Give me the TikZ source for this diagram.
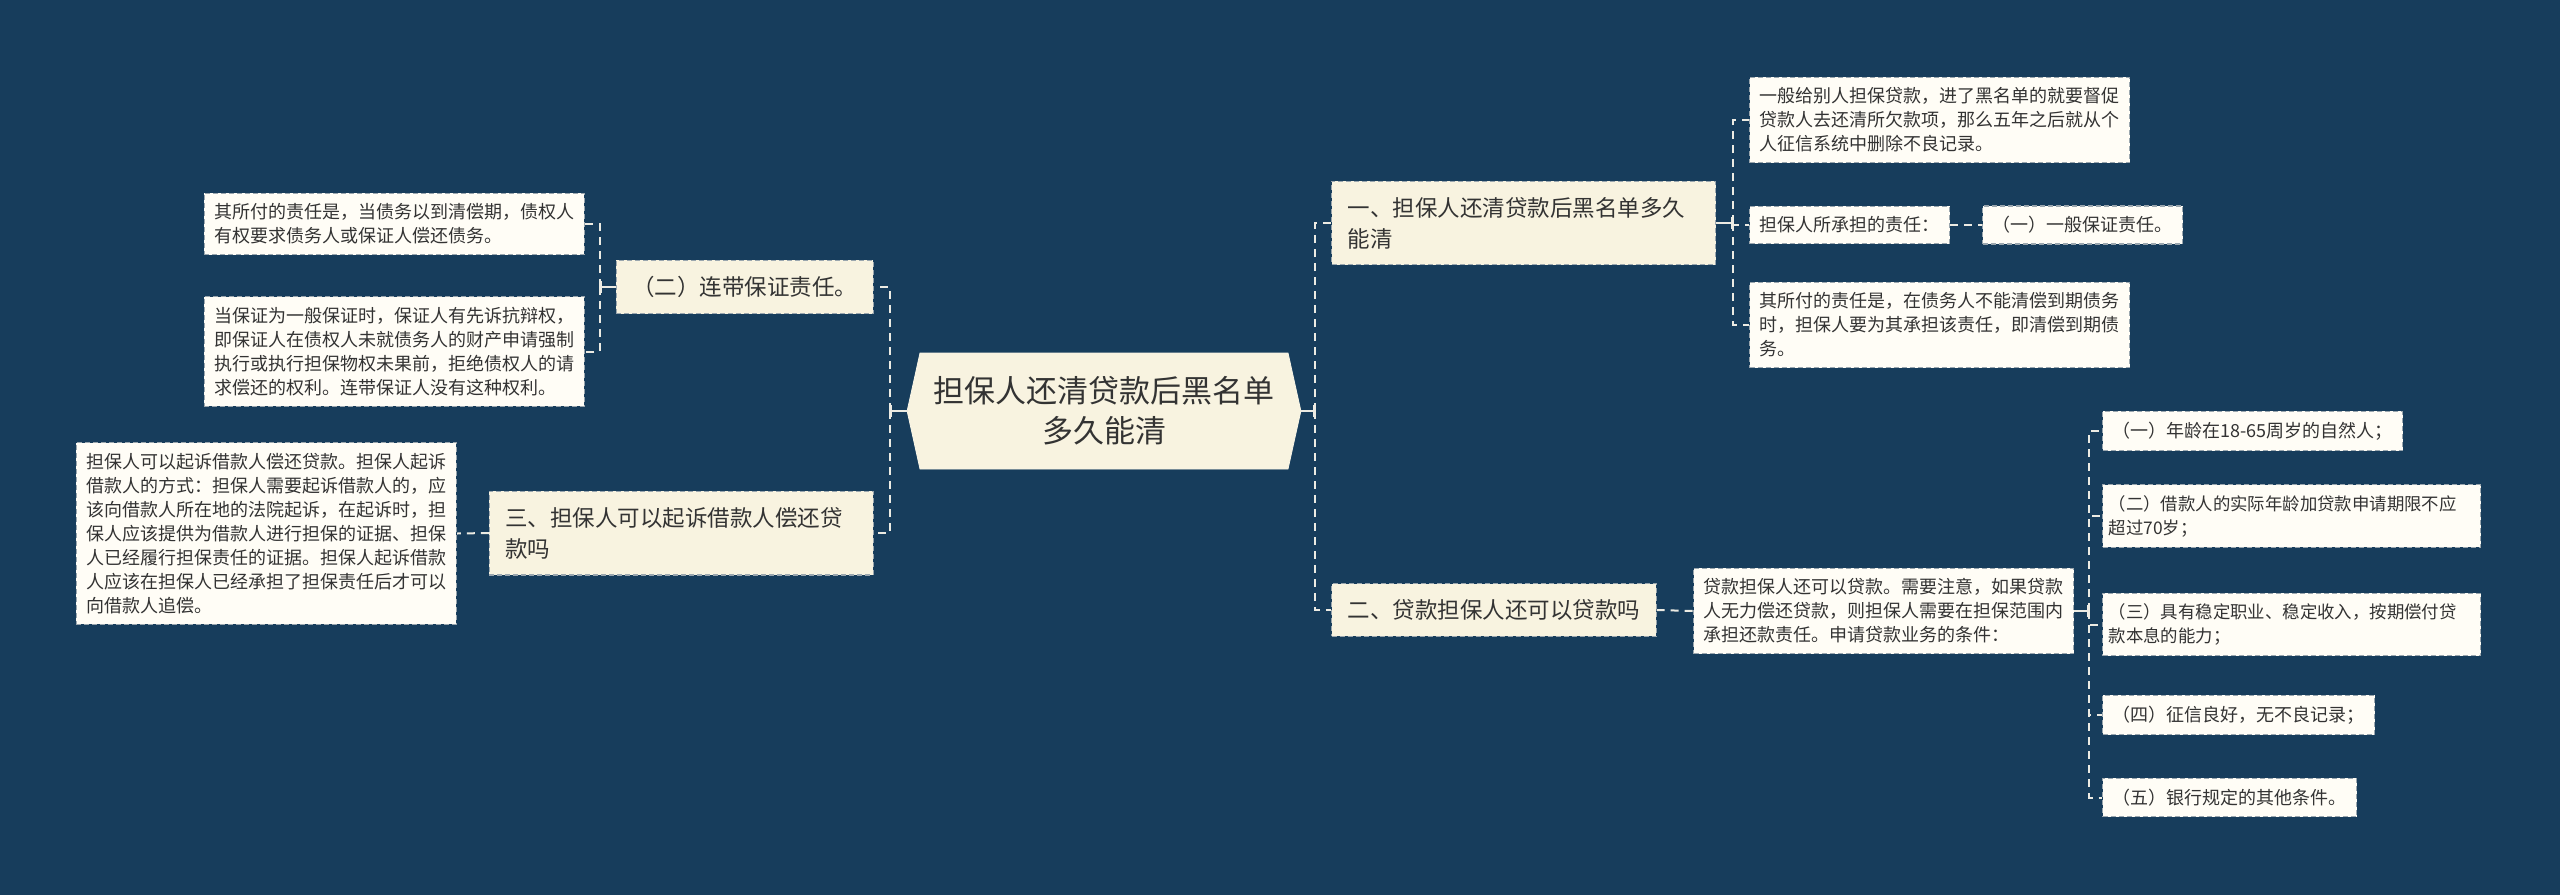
\documentclass[tikz,border=0pt]{standalone}
\usepackage{fontspec}
\setmainfont{Noto Sans CJK SC}
\usepackage{xcolor}
\usepackage{tikz}
\usetikzlibrary{arrows.meta,positioning,shapes.symbols,calc}

\definecolor{bgblue}{HTML}{173D5C}
\definecolor{creamfill}{HTML}{F8F3E0}
\definecolor{leaffill}{HTML}{FFFDF6}
\definecolor{inkgray}{HTML}{333333}
\definecolor{dashgray}{HTML}{9AA6AE}
\definecolor{linkwhite}{HTML}{ECEBE3}

\begin{document}
\begin{tikzpicture}[
  x=0.5pt, y=-0.5pt,
  root/.style={signal, signal to=east and west, signal pointer angle=155, fill=creamfill, draw=creamfill!80!white, text=inkgray, align=center, font=\fontsize{15.5}{20}\selectfont, minimum height=58pt, text width=176pt, inner xsep=4pt},
  branch/.style={rectangle, fill=creamfill, draw=dashgray, dash pattern=on 2.5pt off 1.5pt, line width=0.6pt, text=inkgray, align=left, font=\fontsize{11.25}{15.5}\selectfont, inner xsep=8pt, inner ysep=8pt},
  leaf/.style={branch, fill=leaffill, font=\fontsize{9}{12}\selectfont, inner xsep=5pt, inner ysep=5.25pt},
  link/.style={draw=linkwhite, line width=1pt, dash pattern=on 4pt off 3pt},
  stub/.style={draw=linkwhite, line width=1pt, -{Bar[width=6pt,line width=1pt]}}
]
\fill[bgblue] (0,0) rectangle (2560,895);

% centre
\node[root] (root) at (1104,411) {担保人还清贷款后黑名单\\多久能清};

% left half
\node[branch, anchor=east] (guar) at (874,287) {（二）连带保证责任。};
\node[branch, anchor=east, text width=176pt] (sue) at (874,533) {三、担保人可以起诉借款人偿还贷\\款吗};
\node[leaf, anchor=east, text width=180pt] (guarA) at (585,224) {其所付的责任是，当债务以到清偿期，债权人\\有权要求债务人或保证人偿还债务。};
\node[leaf, anchor=east, text width=180pt] (guarB) at (585,351.5) {当保证为一般保证时，保证人有先诉抗辩权，\\即保证人在债权人未就债务人的财产申请强制\\执行或执行担保物权未果前，拒绝债权人的请\\求偿还的权利。连带保证人没有这种权利。};
\node[leaf, anchor=east, text width=180pt] (sueA) at (457,533.5) {担保人可以起诉借款人偿还贷款。担保人起诉\\借款人的方式：担保人需要起诉借款人的，应\\该向借款人所在地的法院起诉，在起诉时，担\\保人应该提供为借款人进行担保的证据、担保\\人已经履行担保责任的证据。担保人起诉借款\\人应该在担保人已经承担了担保责任后才可以\\向借款人追偿。};

% right half
\node[branch, anchor=west, text width=176pt] (black) at (1331,223) {一、担保人还清贷款后黑名单多久\\能清};
\node[branch, anchor=west] (loan) at (1331,610) {二、贷款担保人还可以贷款吗};
\node[leaf, anchor=west, text width=180pt] (blackA) at (1749,120) {一般给别人担保贷款，进了黑名单的就要督促\\贷款人去还清所欠款项，那么五年之后就从个\\人征信系统中删除不良记录。};
\node[leaf, anchor=west] (blackB) at (1749,225) {担保人所承担的责任：};
\node[leaf, right=16pt of blackB] (blackB1) {（一）一般保证责任。};
\node[leaf, anchor=west, text width=180pt] (blackC) at (1749,325) {其所付的责任是，在债务人不能清偿到期债务\\时，担保人要为其承担该责任，即清偿到期债\\务。};
\node[leaf, anchor=west, text width=180pt] (loanA) at (1693,611) {贷款担保人还可以贷款。需要注意，如果贷款\\人无力偿还贷款，则担保人需要在担保范围内\\承担还款责任。申请贷款业务的条件：};
\node[leaf, anchor=west] (cond1) at (2102,431) {（一）年龄在18-65周岁的自然人；};
\node[leaf, anchor=west, text width=183pt, inner xsep=3pt, font=\fontsize{8.7}{12}\selectfont] (cond2) at (2102,516) {（二）借款人的实际年龄加贷款申请期限不应\\超过70岁；};
\node[leaf, anchor=west, text width=183pt, inner xsep=3pt, font=\fontsize{8.7}{12}\selectfont] (cond3) at (2102,624.5) {（三）具有稳定职业、稳定收入，按期偿付贷\\款本息的能力；};
\node[leaf, anchor=west] (cond4) at (2102,715) {（四）征信良好，无不良记录；};
\node[leaf, anchor=west] (cond5) at (2102,797.5) {（五）银行规定的其他条件。};

% trunks
\coordinate (rootL) at ($(root.west)+(-17,0)$);
\coordinate (rootR) at ($(root.east)+(14,0)$);
\coordinate (guarT) at ($(guar.west)+(-16,0)$);
\coordinate (blackT) at ($(black.east)+(17,0)$);
\coordinate (loanT) at ($(loanA.east)+(15,0)$);

\draw[stub] (root.west) -- (rootL);
\draw[link] (rootL) |- (guar.east);
\draw[link] (rootL) |- (sue.east);
\draw[stub] (root.east) -- (rootR);
\draw[link] (rootR) |- (black.west);
\draw[link] (rootR) |- (loan.west);

\draw[stub] (guar.west) -- (guarT);
\draw[link] (guarT) |- (guarA.east);
\draw[link] (guarT) |- (guarB.east);
\draw[link] (sue.west) -- (sueA.east);

\draw[stub] (black.east) -- (blackT);
\draw[link] (blackT) |- (blackA.west);
\draw[link] (blackT) |- (blackB.west);
\draw[link] (blackT) |- (blackC.west);
\draw[link] (blackB.east) -- (blackB1.west);

\draw[link] (loan.east) -- (loanA.west);
\draw[stub] (loanA.east) -- (loanT);
\foreach \c in {cond1,cond2,cond3,cond4,cond5}
  \draw[link] (loanT) |- (\c.west);
\end{tikzpicture}
\end{document}
